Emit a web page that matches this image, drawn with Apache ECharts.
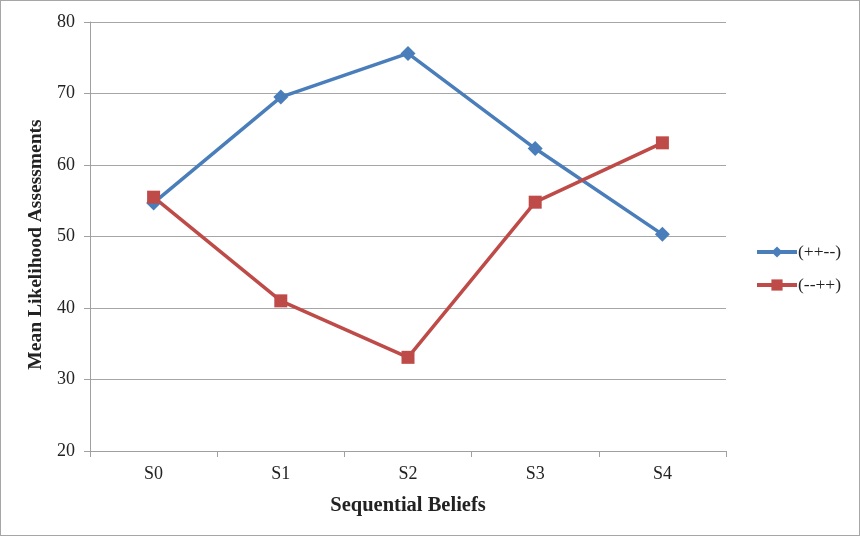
<!DOCTYPE html>
<html>
<head>
<meta charset="utf-8">
<script src="https://cdn.jsdelivr.net/npm/echarts@6/dist/echarts.min.js"></script>
<style>
  html, body { margin: 0; padding: 0; background: #fff; }
  #chart { width: 860px; height: 536px; box-sizing: border-box; border: 1px solid #a6a6a6; }
</style>
</head>
<body>
<div id="chart"></div>
<script>
// Sequential belief stages
const categories = ['S0', 'S1', 'S2', 'S3', 'S4'];
// Mean likelihood assessments per ordering
const seriesNames = ['(++--)', '(--++)'];
const plusFirst = [54.7, 69.5, 75.6, 62.3, 50.3];
const minusFirst = [55.5, 41.0, 33.1, 54.8, 63.1];
// Value axis range
const yMin = 20, yMax = 80, yStep = 10;

const font = 'Liberation Serif, Times New Roman, serif';
const chart = echarts.init(document.getElementById('chart'), null, { renderer: 'canvas' });

chart.setOption({
  animation: false,
  backgroundColor: '#fff',
  grid: { left: 89, right: 133, top: 21, bottom: 84, containLabel: false },
  xAxis: {
    type: 'category',
    data: categories,
    boundaryGap: true,
    name: 'Sequential Beliefs',
    nameLocation: 'middle',
    nameGap: 44,
    nameTextStyle: { fontFamily: font, fontSize: 20.5, fontWeight: 'bold', color: '#222' },
    axisLine: { lineStyle: { color: '#a0a0a0', width: 1 } },
    axisTick: { show: true, length: 6, lineStyle: { color: '#a0a0a0' } },
    axisLabel: { fontFamily: font, fontSize: 18, color: '#222', margin: 14 }
  },
  yAxis: {
    type: 'value',
    min: yMin, max: yMax, interval: yStep,
    name: 'Mean Likelihood Assessments',
    nameLocation: 'middle',
    nameGap: 38,
    nameTextStyle: { fontFamily: font, fontSize: 19.5, fontWeight: 'bold', color: '#222', padding: [0, 16, 0, 0] },
    axisLine: { show: true, lineStyle: { color: '#a0a0a0', width: 1 } },
    axisTick: { show: true, length: 6, lineStyle: { color: '#a0a0a0' } },
    axisLabel: { fontFamily: font, fontSize: 18, color: '#222', margin: 15 },
    splitLine: { lineStyle: { color: '#a6a6a6', width: 1 } }
  },
  legend: {
    orient: 'vertical',
    left: 754,
    top: 242,
    padding: 0,
    itemWidth: 40,
    itemHeight: 14,
    itemGap: 15,
    lineStyle: { width: 4 },
    textStyle: { fontFamily: font, fontSize: 17.5, color: '#222', padding: [0, 0, 0, -4] },
    data: seriesNames
  },
  series: [
    {
      name: seriesNames[0],
      type: 'line',
      data: plusFirst,
      symbol: 'diamond',
      symbolSize: 15,
      itemStyle: { color: '#4a7ebb' },
      lineStyle: { color: '#4a7ebb', width: 3.5 }
    },
    {
      name: seriesNames[1],
      type: 'line',
      data: minusFirst,
      symbol: 'rect',
      symbolSize: 13,
      itemStyle: { color: '#be4b48' },
      lineStyle: { color: '#be4b48', width: 3.5 }
    }
  ]
});
</script>
</body>
</html>
